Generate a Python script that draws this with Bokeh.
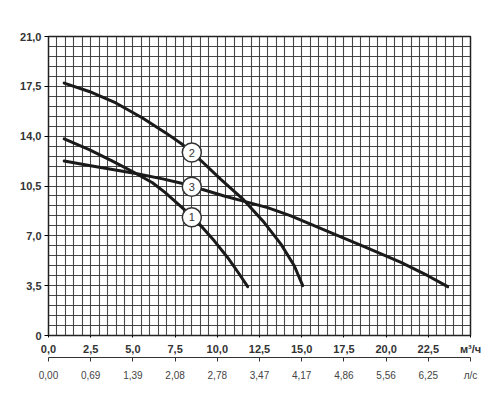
from bokeh.plotting import figure
from bokeh.models import FixedTicker, LinearAxis, Range1d, ColumnDataSource
from bokeh.embed import file_html
from bokeh.resources import INLINE
from bokeh.core.properties import value
import numpy as np

# ---- data ----
q_ticks = [0, 2.5, 5.0, 7.5, 10.0, 12.5, 15.0, 17.5, 20.0, 22.5]
q_labels = ["0,0", "2,5", "5,0", "7,5", "10,0", "12,5", "15,0", "17,5", "20,0", "22,5"]
ls_labels = ["0,00", "0,69", "1,39", "2,08", "2,78", "3,47", "4,17", "4,86", "5,56", "6,25"]
h_ticks = [0, 3.5, 7.0, 10.5, 14.0, 17.5, 21.0]
h_labels = ["0", "3,5", "7,0", "10,5", "14,0", "17,5", "21,0"]
unit_q = "м³/ч"
unit_ls = "л/с"

curve1_q = [0.93, 2.41, 3.79, 5.0, 6.16, 6.9, 8.0, 8.5, 9.03, 9.82, 10.61, 11.3, 11.8]
curve1_h = [13.81, 13.06, 12.25, 11.5, 10.73, 10.05, 8.9, 8.35, 7.7, 6.65, 5.48, 4.32, 3.43]
curve2_q = [0.93, 2.41, 3.99, 5.57, 6.95, 7.94, 8.49, 9.03, 10.21, 11.5, 12.78, 13.77, 14.56, 15.06]
curve2_h = [17.73, 17.14, 16.33, 15.28, 14.23, 13.41, 12.85, 12.29, 10.96, 9.6, 7.93, 6.42, 4.9, 3.5]
curve3_q = [0.93, 2.41, 3.79, 5.17, 6.76, 7.94, 8.49, 9.13, 10.41, 11.6, 12.98, 14.36, 15.45,
            16.93, 18.91, 20.88, 22.47, 23.65]
curve3_h = [12.25, 11.94, 11.66, 11.38, 11.0, 10.68, 10.5, 10.25, 9.8, 9.42, 8.98, 8.4, 7.86,
            7.12, 6.14, 5.13, 4.2, 3.43]

marker_q = [8.49, 8.49, 8.49]
marker_h = [8.3, 12.85, 10.45]
marker_txt = ["1", "2", "3"]

FONT = "Liberation Sans"

p = figure(width=492, height=392,
           min_border_left=48, min_border_right=22, min_border_top=36, min_border_bottom=57,
           x_range=Range1d(0, 25), y_range=Range1d(0, 21),
           output_backend="svg", toolbar_location=None,
           background_fill_color="white", border_fill_color="white")

p.outline_line_color = "#222222"
p.outline_line_width = 1.5

# grid
p.xgrid.ticker = FixedTicker(ticks=list(np.arange(0, 25.01, 0.5)))
p.ygrid.ticker = FixedTicker(ticks=list(np.arange(0, 21.01, 0.7)))
for g in (p.xgrid, p.ygrid):
    g.grid_line_color = "#333333"
    g.grid_line_width = 1.1
    g.grid_line_alpha = 0.9

# y axis
ya = p.yaxis[0]
ya.ticker = FixedTicker(ticks=h_ticks)
ya.major_label_overrides = {t: l for t, l in zip(h_ticks, h_labels)}
ya.major_tick_out = 4
ya.major_tick_in = 0
ya.minor_tick_out = 0
ya.minor_tick_in = 0
ya.major_label_standoff = 3
ya.axis_line_color = "#222222"
ya.major_label_text_font = FONT
ya.major_label_text_font_style = "bold"
ya.major_label_text_font_size = "11px"
ya.major_label_text_color = "#333333"

# x axis (m3/h) - unit shown as the label of the end tick
xa = p.xaxis[0]
xa.ticker = FixedTicker(ticks=q_ticks + [25.0])
xa.major_label_overrides = {**{t: l for t, l in zip(q_ticks, q_labels)}, 25.0: unit_q}
xa.major_tick_out = 2
xa.major_tick_in = 0
xa.minor_tick_out = 0
xa.minor_tick_in = 0
xa.major_label_standoff = 5
xa.axis_line_color = "#222222"
xa.major_label_text_font = FONT
xa.major_label_text_font_style = "bold"
xa.major_label_text_font_size = "11px"
xa.major_label_text_color = "#333333"

# second x axis (l/s)
xa2 = LinearAxis(ticker=FixedTicker(ticks=q_ticks + [25.0]))
xa2.major_label_overrides = {**{t: l for t, l in zip(q_ticks, ls_labels)}, 25.0: unit_ls}
xa2.major_tick_out = 4
xa2.major_tick_in = 0
xa2.minor_tick_out = 0
xa2.minor_tick_in = 0
xa2.major_label_standoff = 8
xa2.axis_line_color = "#333333"
xa2.major_tick_line_color = "#333333"
xa2.major_label_text_font = FONT
xa2.major_label_text_font_size = "10px"
xa2.major_label_text_color = "#444444"
p.add_layout(xa2, "below")

# curves
for qs, hs in ((curve1_q, curve1_h), (curve2_q, curve2_h), (curve3_q, curve3_h)):
    p.line(qs, hs, line_color="#1a1a1a", line_width=3, line_cap="round", line_join="round")

src = ColumnDataSource(dict(q=marker_q, h=marker_h, t=marker_txt))
p.scatter("q", "h", source=src, size=19, fill_color="white", line_color="#333333", line_width=1.5)
p.text("q", "h", text="t", source=src, text_align="center", text_baseline="middle",
       text_font=value(FONT), text_font_size="11px", text_color="#333333")

open("out.html", "w").write(file_html(p, INLINE))
